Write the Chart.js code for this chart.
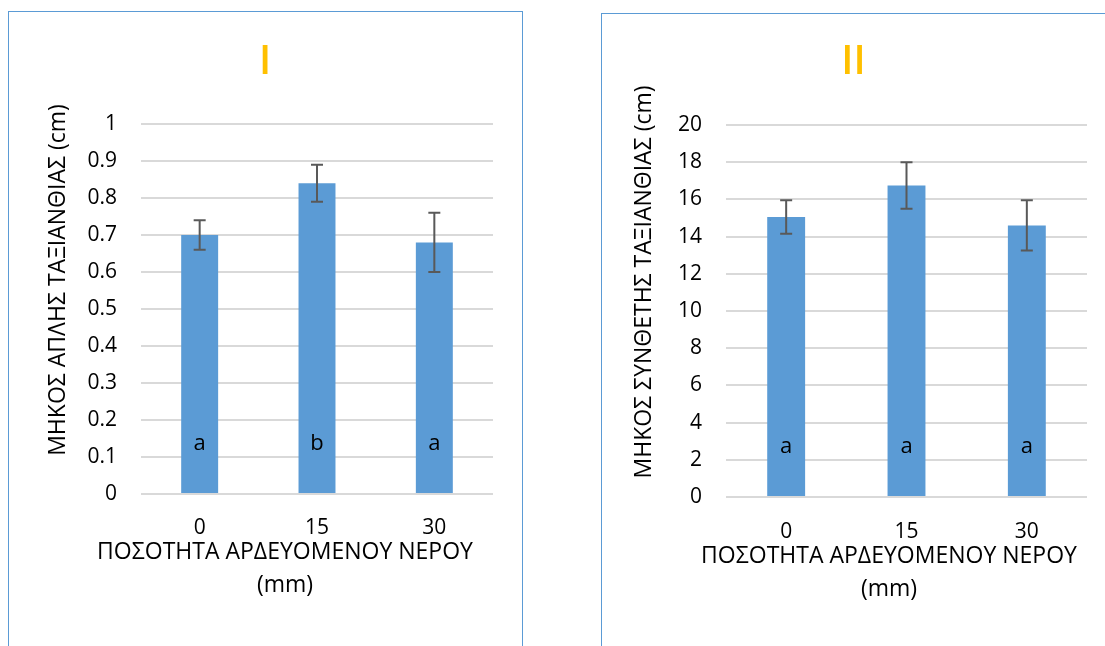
<!DOCTYPE html>
<html>
<head>
<meta charset="utf-8">
<script src="https://cdn.jsdelivr.net/npm/chart.js@4.4.1/dist/chart.umd.min.js"></script>
<style>
  html, body { margin: 0; padding: 0; background: #ffffff; overflow: hidden; }
  body { width: 1105px; height: 646px; position: relative; font-family: "Open Sans", sans-serif; }
  .panel { position: absolute; border: 1.5px solid #5b9bd5; box-sizing: border-box; background: #fff; }
  #panelA { left: 8px; top: 11px; width: 515px; height: 660px; }
  #panelB { left: 601px; top: 13px; width: 540px; height: 660px; }
  .holder { position: absolute; }
  #holderA { left: 9px; top: 12px; width: 512px; height: 634px; }
  #holderB { left: 602px; top: 14px; width: 503px; height: 632px; }
  canvas { display: block; }
</style>
</head>
<body>
<div class="panel" id="panelA"></div>
<div class="panel" id="panelB"></div>
<div class="holder" id="holderA"><canvas id="chartA"></canvas></div>
<div class="holder" id="holderB"><canvas id="chartB"></canvas></div>
<script>
// Irrigation water amount (mm) on the x axis
const waterLevels = ['0', '15', '30'];

// Panel I: simple spikelet length (cm), mean and error
const simpleLength = [0.70, 0.84, 0.68];
const simpleError = [0.04, 0.05, 0.08];
const simpleLetters = ['a', 'b', 'a'];
const simpleTicks = [0, 0.1, 0.2, 0.3, 0.4, 0.5, 0.6, 0.7, 0.8, 0.9, 1];

// Panel II: compound spikelet length (cm), mean and error
const compoundLength = [15.05, 16.75, 14.6];
const compoundError = [0.9, 1.25, 1.35];
const compoundLetters = ['a', 'a', 'a'];
const compoundTicks = [0, 2, 4, 6, 8, 10, 12, 14, 16, 18, 20];

const FONT = '"Open Sans", "Noto Sans", sans-serif';
const BAR = '#5b9bd5';

// Panel heading, error bars, significance letters and axis captions
const extrasPlugin = {
  id: 'extras',
  afterDatasetsDraw(chart, args, opts) {
    const ctx = chart.ctx;
    const meta = chart.getDatasetMeta(0);
    const ys = chart.scales.y;
    const area = chart.chartArea;
    const values = chart.data.datasets[0].data;

    ctx.save();
    // heading, centred on the whole panel
    ctx.fillStyle = '#ffc000';
    ctx.font = '600 40px ' + FONT;
    ctx.textAlign = 'center';
    ctx.textBaseline = 'middle';
    ctx.fillText(opts.heading, chart.width / 2, opts.headingY);

    // error bars
    ctx.strokeStyle = '#595959';
    ctx.lineWidth = 2;
    meta.data.forEach((bar, i) => {
      const v = values[i], e = opts.errors[i];
      const yTop = ys.getPixelForValue(v + e);
      const yBot = ys.getPixelForValue(v - e);
      ctx.beginPath();
      ctx.moveTo(bar.x, yTop); ctx.lineTo(bar.x, yBot);
      ctx.moveTo(bar.x - 6, yTop); ctx.lineTo(bar.x + 6, yTop);
      ctx.moveTo(bar.x - 6, yBot); ctx.lineTo(bar.x + 6, yBot);
      ctx.stroke();
    });

    // significance letters inside the bars
    ctx.fillStyle = '#000';
    ctx.font = '22px ' + FONT;
    meta.data.forEach((bar, i) => {
      ctx.fillText(opts.letters[i], bar.x, area.bottom - opts.letterOffset);
    });

    // x axis caption (two lines)
    ctx.font = '23px ' + FONT;
    opts.xTitle.forEach((line, k) => {
      ctx.fillText(line, area.left + opts.xTitleDx, area.bottom + opts.xTitleDy + k * opts.xTitleGap);
    });

    // y axis caption (rotated)
    ctx.translate(opts.yTitleX, (area.top + area.bottom) / 2 + opts.yTitleDy);
    ctx.rotate(-Math.PI / 2);
    ctx.fillText(opts.yTitle, 0, 0);
    ctx.restore();
  }
};

function makeChart(id, cfg) {
  return new Chart(document.getElementById(id), {
    type: 'bar',
    data: {
      labels: waterLevels,
      datasets: [{
        data: cfg.values,
        backgroundColor: BAR,
        borderWidth: 0,
        categoryPercentage: 1,
        barPercentage: 0.315
      }]
    },
    plugins: [extrasPlugin],
    options: {
      responsive: true,
      maintainAspectRatio: false,
      animation: false,
      layout: { padding: { left: 0, right: cfg.padRight, top: cfg.padTop, bottom: 0 } },
      plugins: {
        legend: { display: false },
        tooltip: { enabled: false },
        title: { display: false },
        extras: {
          heading: cfg.heading,
          headingY: cfg.headingY,
          errors: cfg.errors,
          letters: cfg.letters,
          letterOffset: 50,
          xTitle: ['ΠΟΣΟΤΗΤΑ ΑΡΔΕΥΟΜΕΝΟΥ ΝΕΡΟΥ', '(mm)'],
          xTitleDx: cfg.xTitleDx,
          xTitleDy: cfg.xTitleDy,
          xTitleGap: 33,
          yTitle: cfg.yTitle,
          yTitleX: cfg.yTitleX,
          yTitleDy: -29
        }
      },
      scales: {
        x: {
          grid: { display: false, drawTicks: false },
          border: { display: false },
          ticks: { color: '#000', font: { family: FONT, size: 21 }, padding: cfg.xPad },
          afterFit(scale) { scale.height = cfg.xHeight; }
        },
        y: {
          min: 0,
          max: cfg.max,
          grid: { color: '#d9d9d9', lineWidth: 2, drawTicks: false },
          border: { display: false },
          ticks: {
            color: '#000', font: { family: FONT, size: 21 }, padding: 24,
            callback: (v) => String(v)
          },
          afterBuildTicks(scale) { scale.ticks = cfg.ticks.map(v => ({ value: v })); },
          afterFit(scale) { scale.width = cfg.yWidth; }
        }
      }
    }
  });
}

makeChart('chartA', {
  values: simpleLength, errors: simpleError, letters: simpleLetters, ticks: simpleTicks,
  max: 1, heading: 'I', headingY: 51, padTop: 112, padRight: 28,
  yWidth: 132, xHeight: 152, xPad: 21,
  xTitleDx: 144, xTitleDy: 58,
  yTitle: 'ΜΗΚΟΣ ΑΠΛΗΣ ΤΑΞΙΑΝΘΙΑΣ (cm)', yTitleX: 49
});

makeChart('chartB', {
  values: compoundLength, errors: compoundError, letters: compoundLetters, ticks: compoundTicks,
  max: 20, heading: 'II', headingY: 49, padTop: 111, padRight: 18,
  yWidth: 124, xHeight: 149, xPad: 22,
  xTitleDx: 163, xTitleDy: 59,
  yTitle: 'ΜΗΚΟΣ ΣΥΝΘΕΤΗΣ ΤΑΞΙΑΝΘΙΑΣ (cm)', yTitleX: 42
});
</script>
</body>
</html>
